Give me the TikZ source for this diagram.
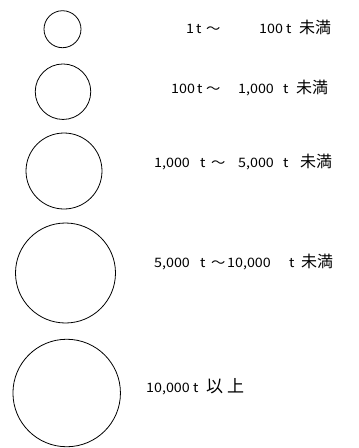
\documentclass[tikz,border=0pt]{standalone}
\usepackage{fontspec}
\setmainfont{Noto Sans CJK JP}[FakeStretch=1.1]
\newfontfamily\kjfont{Noto Sans CJK JP}
\newcommand\sg[2]{\makebox[#1pt][l]{#2}}
\newcommand\kj[2]{{\kjfont\fontsize{16}{18}\selectfont\makebox[#1pt][l]{#2}}}
\begin{document}
\begin{tikzpicture}[x=1pt,y=-1pt,
  ring/.style={circle,draw,line width=0.8pt,inner sep=0pt},
  lbl/.style={anchor=base west,inner sep=0pt,font=\fontsize{13}{16}\selectfont}]
\useasboundingbox (0,0) rectangle (359,448);
\node[ring,minimum size=37pt]  (c1) at (62.5,29.2) {};
\node[ring,minimum size=55.5pt] (c2) at (63,91.7) {};
\node[ring,minimum size=76pt]  (c3) at (64,171) {};
\node[ring,minimum size=100pt] (c4) at (65.5,273) {};
\node[ring,minimum size=107.5pt] (c5) at (66.7,393) {};
\node[lbl] (t1) at (186,33) {\sg{10}{1}\sg{10}{t}\sg{53}{～}\sg{27}{100}\sg{13}{t}\kj{34}{未満}};
\node[lbl] (t2) at (171,93) {\sg{26}{100}\sg{9}{t}\sg{32}{～}\sg{45}{1,000}\sg{13}{t}\kj{34}{未満}};
\node[lbl] (t3) at (154,167) {\sg{46}{1,000}\sg{11}{t}\sg{27}{～}\sg{45}{5,000}\sg{17}{t}\kj{34}{未満}};
\node[lbl] (t4) at (154,267) {\sg{46}{5,000}\sg{11}{t}\sg{16}{～}\sg{62}{10,000}\sg{12}{t}\kj{34}{未満}};
\node[lbl] (t5) at (146,392) {\sg{47}{10,000}\sg{13}{t}{\kjfont\fontsize{17}{18}\selectfont 以\hspace{4pt}上}};
\end{tikzpicture}
\end{document}
